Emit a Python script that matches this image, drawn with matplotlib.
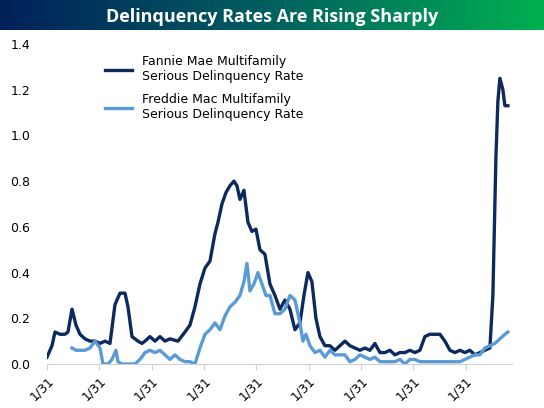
import numpy as np
import matplotlib
matplotlib.use("Agg")
import matplotlib.pyplot as plt
from matplotlib.colors import LinearSegmentedColormap

fannie_px = [47,52,55,60,65,68,72,76,80,85,90,95,100,105,110,115,120,125,128,132,138,142,145,150,155,160,165,170,178,185,190,195,200,205,210,215,218,222,226,230,234,237,240,244,248,252,256,260,265,270,275,280,285,290,295,300,304,308,312,316,320,325,330,335,340,345,350,355,360,365,370,375,380,385,390,395,400,405,410,415,420,425,430,435,440,445,450,455,460,465,470,475,480,485,490,493,496,498,500,503,505,508]
fannie_val = [0.03,0.08,0.14,0.13,0.13,0.14,0.24,0.17,0.13,0.11,0.10,0.10,0.09,0.10,0.09,0.26,0.31,0.31,0.25,0.12,0.10,0.09,0.10,0.12,0.10,0.12,0.10,0.11,0.10,0.14,0.17,0.25,0.35,0.42,0.45,0.57,0.62,0.70,0.75,0.78,0.80,0.78,0.72,0.76,0.62,0.58,0.59,0.50,0.48,0.35,0.30,0.24,0.28,0.24,0.15,0.18,0.30,0.40,0.36,0.20,0.12,0.08,0.08,0.06,0.08,0.10,0.08,0.07,0.06,0.07,0.06,0.09,0.05,0.05,0.06,0.04,0.05,0.05,0.06,0.05,0.06,0.12,0.13,0.13,0.13,0.10,0.06,0.05,0.06,0.05,0.06,0.04,0.05,0.06,0.07,0.30,0.90,1.15,1.25,1.20,1.13,1.13]
freddie_px = [72,76,80,85,90,95,100,103,108,112,116,118,122,128,135,140,145,150,155,160,165,170,175,180,185,190,195,200,205,210,215,220,225,230,235,240,244,247,250,254,258,262,266,270,275,280,285,290,295,300,303,306,310,315,320,325,330,335,340,345,350,355,360,365,370,375,380,385,390,395,400,405,410,415,420,430,440,450,460,470,475,480,485,490,495,500,505,508]
freddie_val = [0.07,0.06,0.06,0.06,0.07,0.10,0.07,0.00,0.00,0.02,0.06,0.01,0.00,0.00,0.00,0.02,0.05,0.06,0.05,0.06,0.04,0.02,0.04,0.02,0.01,0.01,0.00,0.07,0.13,0.15,0.18,0.15,0.21,0.25,0.27,0.30,0.36,0.44,0.32,0.35,0.40,0.35,0.30,0.30,0.22,0.22,0.24,0.30,0.28,0.18,0.10,0.13,0.08,0.05,0.06,0.03,0.06,0.04,0.04,0.04,0.01,0.02,0.04,0.03,0.02,0.03,0.01,0.01,0.01,0.01,0.02,0.00,0.02,0.02,0.01,0.01,0.01,0.01,0.01,0.03,0.04,0.04,0.07,0.08,0.09,0.11,0.13,0.14]
# months since start
fannie_m = [(p - 47) * 0.688 for p in fannie_px]
freddie_m = [(p - 47) * 0.688 for p in freddie_px]
tick_months = [0, 36, 72, 108, 144, 180, 216, 252, 288]
tick_labels = ["1/31"] * 9
y_ticks = [0.0, 0.2, 0.4, 0.6, 0.8, 1.0, 1.2, 1.4]

fig = plt.figure(figsize=(5.44, 4.08), dpi=100)
# banner
bax = fig.add_axes([0, 1 - 30/408, 1, 30/408])
cmap = LinearSegmentedColormap.from_list("b", ["#00205b", "#006060", "#00b050"])
bax.imshow(np.linspace(0, 1, 256)[None, :], aspect="auto", cmap=cmap, extent=[0, 1, 0, 1])
bax.axis("off")
bax.text(0.5, 0.45, "Delinquency Rates Are Rising Sharply", color="white", fontsize=13,
         fontweight="bold", ha="center", va="center", family="Open Sans", transform=bax.transAxes)

ax = fig.add_axes([47/544, 1 - 364/408, 465/544, 320/408])
ax.plot(fannie_m, fannie_val, color="#0d2a5e", lw=2.4, label="Fannie Mae Multifamily\nSerious Delinquency Rate")
ax.plot(freddie_m, freddie_val, color="#5b9bd5", lw=2.4, label="Freddie Mac Multifamily\nSerious Delinquency Rate")
ax.set_ylim(0, 1.4)
ax.set_xlim(0, 320)
ax.set_yticks(y_ticks)
ax.set_yticklabels([f"{v:.1f}" for v in y_ticks], fontsize=9)
ax.set_xticks(tick_months)
ax.set_xticklabels(tick_labels, rotation=45, fontsize=9, ha="right", rotation_mode="anchor")
ax.tick_params(axis="y", length=0, pad=12)
ax.tick_params(axis="x", length=4, color="#d0d0d0")
for s in ["top", "right", "left"]:
    ax.spines[s].set_visible(False)
ax.spines["bottom"].set_color("#d0d0d0")
ax.legend(loc="upper left", bbox_to_anchor=(0.1, 1.0), frameon=False, fontsize=9,
          handlelength=2.2, labelspacing=0.8)
fig.savefig("out.png", dpi=100)
